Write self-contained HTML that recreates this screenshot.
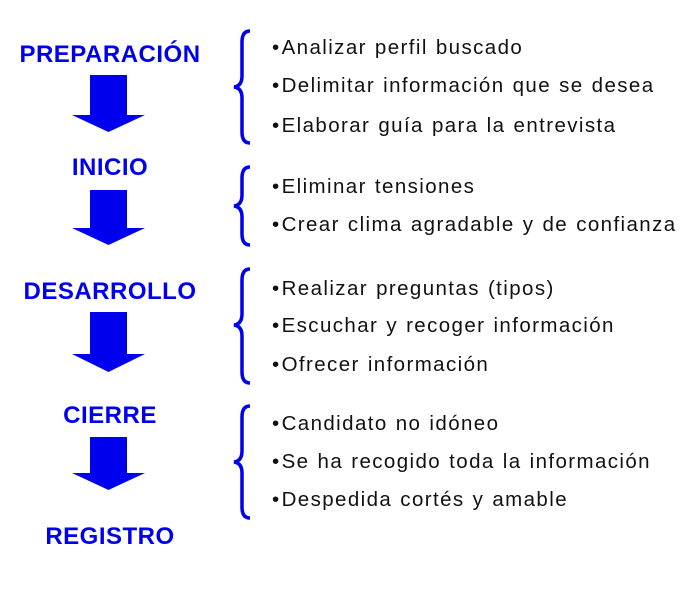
<!DOCTYPE html>
<html><head><style>
body{margin:0;width:698px;height:600px;background:#fff;position:relative;overflow:hidden;font-family:"Liberation Sans",sans-serif}
.t{position:absolute;color:#0000ee;font-weight:bold;font-size:24px;text-align:center;width:220px;left:0;letter-spacing:0.5px}
.i{position:absolute;left:272px;font-size:20.5px;color:#111;white-space:nowrap;letter-spacing:1.4px;word-spacing:1px}
.i b{font-weight:normal;margin-right:1px}
</style></head><body>
<div class="t" style="top:41px">PREPARACIÓN</div>
<div class="t" style="top:154px">INICIO</div>
<div class="t" style="top:278px">DESARROLLO</div>
<div class="t" style="top:402px">CIERRE</div>
<div class="t" style="top:523px">REGISTRO</div>
<svg width="698" height="600" style="position:absolute;left:0;top:0">
<g fill="#0000ee">
<polygon points="90,75 127,75 127,115 145,115 108.5,132 72,115 90,115"/>
<polygon points="90,190 127,190 127,228 145,228 108.5,245 72,228 90,228"/>
<polygon points="90,312 127,312 127,354 145,354 108.5,372 72,354 90,354"/>
<polygon points="90,437 127,437 127,473 145,473 108.5,490 72,473 90,473"/>
</g>
<g fill="none" stroke="#0000ee" stroke-width="3.5">
<path d="M250,31 Q242,31 242,42 L242,76 Q242,86 234,87 Q242,88 242,98 L242,132 Q242,143 250,143"/>
<path d="M250,167 Q242,167 242,178 L242,195 Q242,205 234,206 Q242,207 242,217 L242,234 Q242,245 250,245"/>
<path d="M250,269 Q242,269 242,280 L242,314 Q242,324 234,325 Q242,326 242,336 L242,372 Q242,383 250,383"/>
<path d="M250,406 Q242,406 242,417 L242,451 Q242,461 234,462 Q242,463 242,473 L242,507 Q242,518 250,518"/>
</g>
</svg>
<div class="i" style="top:36px"><b>•</b>Analizar perfil buscado</div>
<div class="i" style="top:74px"><b>•</b>Delimitar información que se desea</div>
<div class="i" style="top:114px"><b>•</b>Elaborar guía para la entrevista</div>
<div class="i" style="top:175px"><b>•</b>Eliminar tensiones</div>
<div class="i" style="top:213px"><b>•</b>Crear clima agradable y de confianza</div>
<div class="i" style="top:277px"><b>•</b>Realizar preguntas (tipos)</div>
<div class="i" style="top:314px"><b>•</b>Escuchar y recoger información</div>
<div class="i" style="top:353px"><b>•</b>Ofrecer información</div>
<div class="i" style="top:412px"><b>•</b>Candidato no idóneo</div>
<div class="i" style="top:450px"><b>•</b>Se ha recogido toda la información</div>
<div class="i" style="top:488px"><b>•</b>Despedida cortés y amable</div>
</body></html>
